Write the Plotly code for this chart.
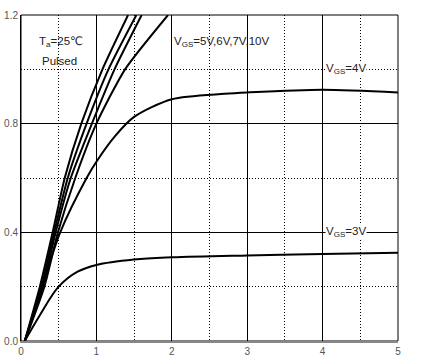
import plotly.graph_objects as go

# Output characteristics: drain current ID (A) vs drain-source voltage VDS (V)
vds_10v = [0.05, 0.25, 0.42, 0.58, 0.80, 1.08, 1.42]
id_10v = [0.0, 0.2, 0.4, 0.6, 0.8, 1.0, 1.2]

vds_7v = [0.05, 0.27, 0.44, 0.62, 0.87, 1.16, 1.53]
id_7v = [0.0, 0.2, 0.4, 0.6, 0.8, 1.0, 1.2]

vds_6v = [0.05, 0.29, 0.46, 0.66, 0.94, 1.24, 1.60]
id_6v = [0.0, 0.2, 0.4, 0.6, 0.8, 1.0, 1.2]

vds_5v = [0.05, 0.31, 0.49, 0.72, 1.00, 1.38, 1.95]
id_5v = [0.0, 0.2, 0.4, 0.6, 0.8, 1.0, 1.2]

vds_4v = [0.05, 0.28, 0.52, 0.87, 1.0, 1.25, 1.5, 2.0, 2.7, 3.0, 4.0, 5.0]
id_4v = [0.0, 0.2, 0.4, 0.6, 0.66, 0.755, 0.825, 0.89, 0.91, 0.915, 0.925, 0.915]

vds_3v = [0.05, 0.25, 0.5, 0.75, 1.0, 1.5, 2.0, 3.0, 4.0, 5.0]
id_3v = [0.0, 0.095, 0.2, 0.255, 0.28, 0.3, 0.308, 0.315, 0.32, 0.325]

x_ticks = [0, 1, 2, 3, 4, 5]
y_ticks = [0.0, 0.4, 0.8, 1.2]
y_tick_labels = ["0.0", "0.4", "0.8", "1.2"]

fig = go.Figure()
for xs, ys, name, sm in [
    (vds_10v, id_10v, "10V", 0.6),
    (vds_7v, id_7v, "7V", 0.6),
    (vds_6v, id_6v, "6V", 0.6),
    (vds_5v, id_5v, "5V", 0.6),
    (vds_4v, id_4v, "4V", 0.8),
    (vds_3v, id_3v, "3V", 1.0),
]:
    fig.add_trace(go.Scatter(
        x=xs, y=ys, mode="lines", name=name,
        line=dict(color="black", width=2, shape="spline", smoothing=sm),
        showlegend=False, hoverinfo="skip",
    ))

font_main = "Liberation Sans, Arial, DejaVu Sans, sans-serif"

annos = [
    dict(x=0.22, y=1.10, text="T<sub>a</sub>=25\u2103", xanchor="left", yanchor="middle"),
    dict(x=0.26, y=1.03, text="Pulsed", xanchor="left", yanchor="middle"),
    dict(x=2.02, y=1.10, text="V<sub>GS</sub>=5V,6V,7V,10V", xanchor="left", yanchor="middle"),
    dict(x=4.03, y=1.0, text="V<sub>GS</sub>=4V", xanchor="left", yanchor="middle", bgcolor="white"),
    dict(x=4.03, y=0.4, text="V<sub>GS</sub>=3V", xanchor="left", yanchor="middle", bgcolor="white"),
]
for a in annos:
    fig.add_annotation(showarrow=False, font=dict(family=font_main, size=11.5, color="#222"),
                       borderpad=0, **a)

# plot frame (top/right border)
fig.add_shape(type="rect", xref="paper", yref="paper", x0=0, y0=0, x1=1, y1=1,
              line=dict(color="black", width=1), layer="below")

fig.update_layout(
    width=423, height=360,
    margin=dict(l=21, r=25, t=15, b=19, autoexpand=False),
    paper_bgcolor="white", plot_bgcolor="white",
    font=dict(family=font_main, size=10, color="#555"),
)
fig.update_xaxes(
    range=[0, 5], tickvals=x_ticks, ticks="", showgrid=True, gridcolor="black", gridwidth=1,
    showline=True, linecolor="#888", linewidth=2, mirror=False, zeroline=False,
    minor=dict(dtick=0.5, showgrid=True, gridcolor="black", griddash="1px,2px", gridwidth=1),
    tickfont=dict(size=10, color="#555"), fixedrange=True, layer="below traces",
)
fig.update_yaxes(
    range=[0, 1.2], tickvals=y_ticks, ticktext=y_tick_labels, ticks="", showgrid=True,
    gridcolor="black", gridwidth=1, showline=True, linecolor="black", linewidth=1, mirror=False,
    zeroline=False,
    minor=dict(dtick=0.2, showgrid=True, gridcolor="black", griddash="1px,2px", gridwidth=1),
    tickfont=dict(size=10, color="#555"), fixedrange=True,
)
fig.write_html("out.html", config={"displayModeBar": False},
               post_script="document.body.style.margin='0';")
